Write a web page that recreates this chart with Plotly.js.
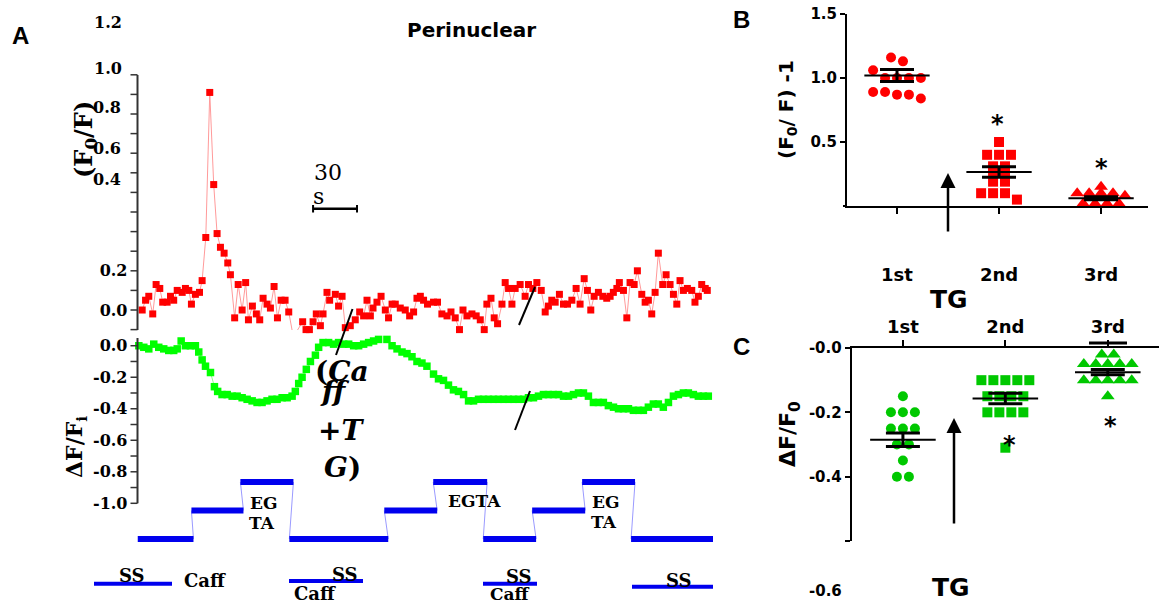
<!DOCTYPE html>
<html><head><meta charset="utf-8">
<script src="https://cdn.plot.ly/plotly-3.0.1.min.js"></script>
<style>html,body{margin:0;padding:0;background:#fff}#chart{width:1159px;height:603px}</style>
</head><body><div id="chart"></div>
<script>
// ---------------- DATA ----------------
// Panel A: perinuclear traces (time in s)
const redTime = [3.2,5.5,7.7,10.4,12.7,15.2,17.2,20.2,22.5,24.7,27.1,30.5,32.7,35.0,36.8,39.5,42.3,44.1,46.6,49.3,52.0,54.3,56.6,59.1,61.6,63.4,66.3,68.7,71.4,73.8,75.7,78.4,81.1,83.4,85.7,88.4,90.7,93.2,95.5,98.0,100.7,103.2,105.9,107.7,112.7,115.0,117.3,119.8,122.0,124.8,126.6,129.3,131.1,
135.0,137.2,139.6,141.8,145.2,148.6,151.6,154.3,156.6,158.9,160.7,163.4,166.2,169.1,171.3,173.7,175.9,179.3,182.7,185.7,188.4,190.7,193.0,195.2,197.9,202.0,204.7,207.7,211.2,213.9,216.8,219.7,222.1,224.8,228.2,231.1,233.9,236.6,238.4,241.2,243.4,245.7,248.7,250.9,253.2,
255.5,257.7,261.1,264.5,266.8,269.8,272.5,275.5,278.2,280.4,282.7,285.0,287.9,290.7,293.4,296.4,299.3,302.0,304.8,307.0,309.3,311.6,314.5,317.5,320.2,322.5,324.7,327.1,328.8,331.6,333.9,336.1,338.9,341.1,344.1,346.4,348.6,350.9,353.2,355.4,358.4,360.7,363.4,365.7,368.0,370.2,372.5,375.2,378.2,380.4,382.7,385.0,387.4,388.8];
const redValue = [0.00,0.05,0.07,-0.02,0.13,0.11,0.04,0.04,0.07,0.05,0.10,0.09,0.11,0.10,0.03,0.08,0.09,0.15,0.37,1.11,0.64,0.39,0.32,0.29,0.24,0.18,-0.04,0.13,0.00,0.14,-0.05,0.02,-0.02,-0.05,0.06,0.03,0.01,0.12,-0.04,0.05,0.05,-0.01,-0.12,-0.12,-0.06,-0.10,-0.10,-0.06,-0.02,-0.08,-0.02,0.09,0.05,
0.08,0.02,0.07,-0.09,-0.08,-0.05,-0.01,-0.03,0.05,-0.03,0.01,0.04,0.07,0.00,-0.04,0.03,0.03,0.01,0.00,-0.03,-0.01,0.06,0.07,0.05,0.03,0.04,0.04,-0.02,-0.03,-0.01,-0.04,-0.10,0.00,-0.03,-0.02,-0.03,-0.05,-0.10,0.03,0.06,-0.04,-0.07,0.03,0.14,0.11,
0.03,0.11,0.13,0.07,0.13,0.11,0.14,0.10,-0.01,0.02,0.05,0.04,0.08,0.03,0.03,0.05,0.11,0.03,0.16,0.10,0.00,0.07,0.09,0.07,0.06,0.07,0.09,0.11,0.14,0.10,-0.04,0.14,0.13,0.20,0.08,0.04,0.05,-0.02,0.09,0.29,0.13,0.18,0.13,0.08,0.03,0.15,0.10,0.11,0.10,0.04,0.07,0.13,0.11,0.10];

const greenTime = [0.9,4.3,7.7,11.1,14.5,17.9,21.3,24.7,27.1,29.8,32.7,36.1,39.5,41.8,44.1,46.4,49.8,52.5,54.7,57.7,61.2,64.6,68.0,71.4,74.8,78.2,81.6,85.0,88.4,91.8,95.2,98.7,102.1,105.5,107.7,110.0,112.3,115.2,118.0,121.4,123.6,126.6,130.4,133.8,137.2,140.7,144.1,147.5,150.9,154.3,157.7,161.1,164.5,167.5,170.2,173.7,177.1,180.5,183.9,187.3,190.7,194.1,197.5,
202.0,205.4,208.8,212.2,215.6,219.0,222.5,225.9,229.3,232.7,236.1,239.5,242.9,246.3,249.7,253.1,256.6,260.0,263.4,266.8,270.2,273.6,277.0,280.4,283.8,287.3,290.7,294.1,297.5,300.9,304.3,307.7,311.1,314.5,317.9,321.3,324.8,328.2,331.6,335.0,338.4,341.8,345.2,348.6,352.0,355.4,358.8,362.3,365.7,369.1,372.5,375.9,379.3,382.7,386.1,389.5];
const greenValue = [0.00,-0.01,-0.02,0.01,-0.01,-0.02,-0.03,-0.03,-0.02,0.03,0.00,0.00,0.00,-0.04,-0.09,-0.13,-0.17,-0.26,-0.29,-0.31,-0.31,-0.32,-0.32,-0.33,-0.34,-0.35,-0.36,-0.36,-0.35,-0.34,-0.34,-0.33,-0.33,-0.32,-0.29,-0.24,-0.20,-0.15,-0.10,-0.06,-0.01,0.02,0.02,0.01,0.02,0.01,0.01,0.00,0.00,0.01,0.02,0.03,0.04,0.06,0.04,0.00,-0.02,-0.04,-0.05,-0.07,-0.10,-0.11,-0.13,
-0.18,-0.21,-0.22,-0.25,-0.28,-0.29,-0.31,-0.35,-0.35,-0.34,-0.34,-0.34,-0.34,-0.34,-0.34,-0.34,-0.34,-0.34,-0.34,-0.33,-0.33,-0.32,-0.31,-0.31,-0.31,-0.31,-0.32,-0.32,-0.31,-0.30,-0.30,-0.32,-0.36,-0.36,-0.36,-0.38,-0.39,-0.40,-0.40,-0.40,-0.41,-0.41,-0.41,-0.39,-0.37,-0.37,-0.39,-0.36,-0.32,-0.31,-0.30,-0.30,-0.31,-0.32,-0.32,-0.32];

// Solution protocol (0 = SS, 1 = Caff, 2 = EGTA)
const stepStart = [0, 36.8, 70.2, 103.6, 168.4, 201.8, 235.9, 269.3, 303.4, 336.8];
const stepEnd   = [38.2, 72.3, 106.4, 171.1, 204.5, 238.6, 272.0, 305.5, 339.5, 392.7];
const stepLevel = [0, 1, 2, 0, 1, 2, 0, 1, 2, 0];
const scaleBarStart = 119.8, scaleBarSeconds = 30;

// Panel B: (F0/F)-1 per TG application
const tgCategories = ['1st', '2nd', '3rd'];
const b1st = [1.16, 1.13, 1.06, 1.00, 1.00, 1.00, 1.00, 0.89, 0.89, 0.87, 0.87, 0.84];
const b2nd = [0.50, 0.40, 0.40, 0.40, 0.31, 0.31, 0.27, 0.22, 0.19, 0.19, 0.10, 0.10, 0.10, 0.05];
const b3rd = [0.15, 0.10, 0.10, 0.10, 0.10, 0.08, 0.02, 0.02, 0.02, 0.02];
const bMean = [1.02, 0.265, 0.06];
const bSem  = [0.047, 0.041, 0.012];

// Panel C: dF/F0 per TG application
const c1st = [-0.15, -0.20, -0.20, -0.20, -0.25, -0.25, -0.25, -0.30, -0.30, -0.35, -0.40, -0.40];
const c2nd = [-0.10, -0.10, -0.10, -0.10, -0.10, -0.15, -0.15, -0.15, -0.15, -0.20, -0.20, -0.20, -0.20, -0.31];
const c3rd = [-0.02, -0.02, -0.05, -0.05, -0.05, -0.05, -0.05, -0.10, -0.10, -0.10, -0.10, -0.10, -0.15];
const cMean = [-0.285, -0.157, -0.075];
const cSem  = [0.021, 0.016, 0.008];

// ---------------- HELPERS ----------------
const W = 1159, H = 603;
const PX = x => x / W, PY = y => 1 - y / H;
const RED = '#ff0000', LIME = '#00ff00', GREEN = '#00c800', BLUE = '#0000ee';
const serifB = s => ({family: 'DejaVu Serif', size: s, color: '#000', weight: 700});
const sansB = s => ({family: 'DejaVu Sans', size: s, color: '#000', weight: 700});
const PROTO_BASE = 539, PROTO_STEP = 28.5;
const protoY = level => PY(PROTO_BASE - level * PROTO_STEP);

function swarm(vals, center, binW, dx) {
  const bins = {};
  vals.forEach((v, i) => { const k = Math.round(v / binW); (bins[k] = bins[k] || []).push(i); });
  const xs = new Array(vals.length);
  Object.values(bins).forEach(idx => {
    const n = idx.length;
    idx.forEach((i, j) => { xs[i] = center + (j - (n - 1) / 2) * dx; });
  });
  return xs;
}

const traces = [];
traces.push({x: redTime, y: redValue, xaxis: 'x', yaxis: 'y', mode: 'lines+markers', cliponaxis: false,
  line: {color: '#ff9a9a', width: 1}, marker: {symbol: 'square', size: 7, color: RED}});
traces.push({x: greenTime, y: greenValue, xaxis: 'x', yaxis: 'y2', mode: 'lines+markers', cliponaxis: false,
  line: {color: '#8fff8f', width: 1}, marker: {symbol: 'square', size: 7.5, color: LIME}});

function groupTraces(groups, symbols, color, xa, ya, binW, mean, sem) {
  groups.forEach((g, i) => {
    traces.push({x: swarm(g, i + 1, binW, 0.117), y: g, xaxis: xa, yaxis: ya, mode: 'markers', cliponaxis: false,
      marker: {symbol: symbols[i], size: symbols[i] === 'triangle-up' ? 12 : 10, color: color}});
  });
  const mx = [], my = [];
  mean.forEach((m, i) => { mx.push(i + 1 - 0.32, i + 1 + 0.32, null); my.push(m, m, null); });
  traces.push({x: mx, y: my, xaxis: xa, yaxis: ya, mode: 'lines', cliponaxis: false, line: {color: '#000', width: 2}});
  traces.push({x: [1, 2, 3], y: mean, xaxis: xa, yaxis: ya, mode: 'markers', cliponaxis: false,
    marker: {size: 1, color: 'rgba(0,0,0,0)'},
    error_y: {type: 'data', array: sem, visible: true, color: '#000', thickness: 3, width: 17}});
}
groupTraces([b1st, b2nd, b3rd], ['circle', 'square', 'triangle-up'], RED, 'x2', 'y4', 0.08, bMean, bSem);
groupTraces([c1st, c2nd, c3rd], ['circle', 'square', 'triangle-up'], GREEN, 'x3', 'y5', 0.03, cMean, cSem);

// ticks panel A (every 0.1; labels only where the figure shows them on the axis)
const redRange = [-0.102, 1.199], greenRange = [-1.0, 0.049];
const redDomain = [PY(330), PY(75)], greenDomain = [PY(503.3), PY(338)];
const redMinor = [], greenMinor = [];
for (let k = -1; k <= 12; k++) redMinor.push(k / 10);
for (let k = -10; k <= 0; k++) greenMinor.push(k / 10);
const redLabelVals = [0, 0.2], redLabelText = ['0.0', '0.2'];
const greenLabelVals = [0, -0.2, -0.4, -0.6, -0.8, -1.0], greenLabelText = ['0.0', '-0.2', '-0.4', '-0.6', '-0.8', '-1.0'];
const redExtraLabels = ['1.2', '1.0', '0.8', '0.6', '0.4'];
const redExtraPos = [[108, 22], [108, 68], [107, 108], [107, 148], [107, 179]];
// linear value -> paper mapping identical to the axis (domain + range)
const axisToPaper = (v, range, domain) => domain[0] + (v - range[0]) / (range[1] - range[0]) * (domain[1] - domain[0]);

const annotations = [];
const ann = (text, x, y, font, extra) => annotations.push(Object.assign({text, x: PX(x), y: PY(y), xref: 'paper', yref: 'paper', showarrow: false, xanchor: 'center', yanchor: 'middle', font}, extra || {}));

ann('Perinuclear', 471, 30, sansB(20));
ann('A', 20, 36, {family: 'Liberation Sans', size: 24, color: '#000', weight: 700});
ann('B', 741, 20, {family: 'Liberation Sans', size: 24, color: '#000', weight: 700});
ann('C', 741, 346, {family: 'Liberation Sans', size: 24, color: '#000', weight: 700});
redExtraLabels.forEach((t, i) => ann(t, redExtraPos[i][0], redExtraPos[i][1], serifB(16)));
ann('(F<sub>0</sub>/F)', 85, 140, serifB(24), {textangle: -90});
ann('ΔF/F<sub>i</sub>', 76, 447, serifB(22), {textangle: -90});
ann('30', 328, 172, {family: 'DejaVu Serif', size: 22, color: '#000'});
ann('s', 318, 196, {family: 'DejaVu Serif', size: 22, color: '#000'});
ann('(<i>Ca</i>', 342, 371, serifB(28));
ann('<i>ff</i>', 335, 391, serifB(28));
ann('+<i>T</i>', 341, 430, serifB(28));
ann('<i>G</i>)', 342, 467, serifB(28));
ann('EG', 263, 503, serifB(17)); ann('TA', 262, 523, serifB(17));
ann('EGTA', 474, 501, serifB(17));
ann('EG', 605, 502, serifB(17)); ann('TA', 604, 522, serifB(17));
ann('SS', 132, 575, serifB(18)); ann('Caff', 205, 580, serifB(18));
ann('SS', 345, 574, serifB(18)); ann('Caff', 315, 593, serifB(18));
ann('SS', 519, 576, serifB(18)); ann('Caff', 510, 594, serifB(17));
ann('SS', 679, 580, serifB(18));
// Panel B/C text
ann('(F<sub>0</sub>/ F) -1', 787, 110, sansB(20), {textangle: -90});
ann('ΔF/F<sub>0</sub>', 789, 434, sansB(22), {textangle: -90});
ann('TG', 949, 299, sansB(25));
ann('TG', 951, 587, sansB(25));
ann('-0.6', 825, 591, sansB(15));
ann('*', 997, 124, sansB(24)); ann('*', 1101, 168, sansB(24));
ann('*', 1009, 445, sansB(24)); ann('*', 1110, 426, sansB(24));
// arrows
annotations.push({x: PX(948), y: PY(173), xref: 'paper', yref: 'paper', ax: 0, ay: 60, text: '', showarrow: true, arrowhead: 2, arrowsize: 1.2, arrowwidth: 2.5, arrowcolor: '#000'});
annotations.push({x: PX(954), y: PY(418), xref: 'paper', yref: 'paper', ax: 0, ay: 107, text: '', showarrow: true, arrowhead: 2, arrowsize: 1.2, arrowwidth: 2.5, arrowcolor: '#000'});

const seg = (x0, y0, x1, y1, color, width) => ({type: 'line', xref: 'paper', yref: 'paper', x0: PX(x0), y0: PY(y0), x1: PX(x1), y1: PY(y1), line: {color, width}});
const AX_X = 137.5, AX_COL = '#333333';
const shapes = [];
// panel A axis lines and ticks (paper refs, mapped through the axes' domain/range)
shapes.push({type: 'line', xref: 'paper', yref: 'paper', x0: PX(AX_X), x1: PX(AX_X), y0: redDomain[0], y1: redDomain[1], line: {color: AX_COL, width: 2}});
shapes.push({type: 'line', xref: 'paper', yref: 'paper', x0: PX(AX_X), x1: PX(AX_X), y0: greenDomain[0], y1: greenDomain[1], line: {color: AX_COL, width: 2}});
redMinor.forEach(v => { const y = axisToPaper(v, redRange, redDomain); shapes.push({type: 'line', xref: 'paper', yref: 'paper', x0: PX(AX_X - 7), x1: PX(AX_X), y0: y, y1: y, line: {color: AX_COL, width: 1.5}}); });
greenMinor.forEach(v => { const y = axisToPaper(v, greenRange, greenDomain); shapes.push({type: 'line', xref: 'paper', yref: 'paper', x0: PX(AX_X - 7), x1: PX(AX_X), y0: y, y1: y, line: {color: AX_COL, width: 1.5}}); });
// protocol: thin connectors then thick bars, on the time axis
stepStart.forEach((s, i) => {
  if (i > 0) shapes.push({type: 'line', xref: 'x', yref: 'paper', x0: stepEnd[i - 1], x1: s, y0: protoY(stepLevel[i - 1]), y1: protoY(stepLevel[i]), line: {color: '#9a9aff', width: 1}});
});
stepStart.forEach((s, i) => {
  shapes.push({type: 'line', xref: 'x', yref: 'paper', x0: s, x1: stepEnd[i], y0: protoY(stepLevel[i]), y1: protoY(stepLevel[i]), line: {color: BLUE, width: 6}});
});
shapes.push(
  seg(352.5, 309, 336, 355, '#000', 2), seg(535, 287, 519, 325, '#000', 2), seg(530, 391, 515, 430, '#000', 2),
  seg(94, 583.7, 172, 583.7, BLUE, 4), seg(289, 581, 363, 581, BLUE, 4), seg(483, 583.7, 537, 583.7, BLUE, 4), seg(632, 586.7, 713, 586.7, BLUE, 4),
  seg(1089, 343, 1127, 343, '#000', 3),
  seg(843, 206, 847, 206, '#000', 2),
  {type: 'line', xref: 'x', yref: 'paper', x0: scaleBarStart, x1: scaleBarStart + scaleBarSeconds, y0: PY(208.7), y1: PY(208.7), line: {color: '#000', width: 2.5}},
  {type: 'line', xref: 'x', yref: 'paper', x0: scaleBarStart, x1: scaleBarStart, y0: PY(205), y1: PY(212.5), line: {color: '#000', width: 2}},
  {type: 'line', xref: 'x', yref: 'paper', x0: scaleBarStart + scaleBarSeconds, x1: scaleBarStart + scaleBarSeconds, y0: PY(205), y1: PY(212.5), line: {color: '#000', width: 2}}
);

const axA = {showline: false, ticks: '', showgrid: false, zeroline: false, tickfont: serifB(16), tickmode: 'array',
  fixedrange: true, anchor: 'x', ticklabelstandoff: 9};
const axBC = {showline: true, linecolor: '#000', linewidth: 2, ticks: 'outside', ticklen: 6, tickwidth: 2, tickcolor: '#000',
  showgrid: false, zeroline: false, tickfont: sansB(15), tickmode: 'array', fixedrange: true};

const layout = {
  width: W, height: H, margin: {l: 0, r: 0, t: 0, b: 0}, paper_bgcolor: '#ffffff', plot_bgcolor: '#ffffff', showlegend: false,
  xaxis: {domain: [PX(AX_X), PX(713)], range: [0, 392.7], visible: true, showline: false, showticklabels: false, ticks: '', showgrid: false, zeroline: false, fixedrange: true},
  yaxis: Object.assign({}, axA, {domain: redDomain, range: redRange, tickvals: redLabelVals, ticktext: redLabelText}),
  yaxis2: Object.assign({}, axA, {domain: greenDomain, range: greenRange, tickvals: greenLabelVals, ticktext: greenLabelText}),
  xaxis2: Object.assign({}, axBC, {domain: [PX(847), PX(1148)], range: [0.51, 3.46], anchor: 'y4', tickvals: [1, 2, 3], ticktext: tgCategories, tickfont: sansB(18), ticklabelstandoff: 45}),
  yaxis4: Object.assign({}, axBC, {domain: [PY(206), PY(14)], range: [0, 1.5], anchor: 'x2', tickvals: [0.5, 1.0, 1.5], ticktext: ['0.5', '1.0', '1.5'], ticklen: 5}),
  xaxis3: Object.assign({}, axBC, {domain: [PX(851.7), 1], range: [0.5, 3.5], anchor: 'y5', side: 'top', tickvals: [1, 2, 3], ticktext: tgCategories, tickfont: sansB(18)}),
  yaxis5: Object.assign({}, axBC, {domain: [PY(541), PY(348)], range: [-0.6, 0], anchor: 'x3', tickvals: [0, -0.2, -0.4, -0.6], ticktext: ['-0.0', '-0.2', '-0.4', ''], ticklen: 5}),
  annotations, shapes
};

Plotly.newPlot('chart', traces, layout, {displayModeBar: false, staticPlot: true});
</script></body></html>
